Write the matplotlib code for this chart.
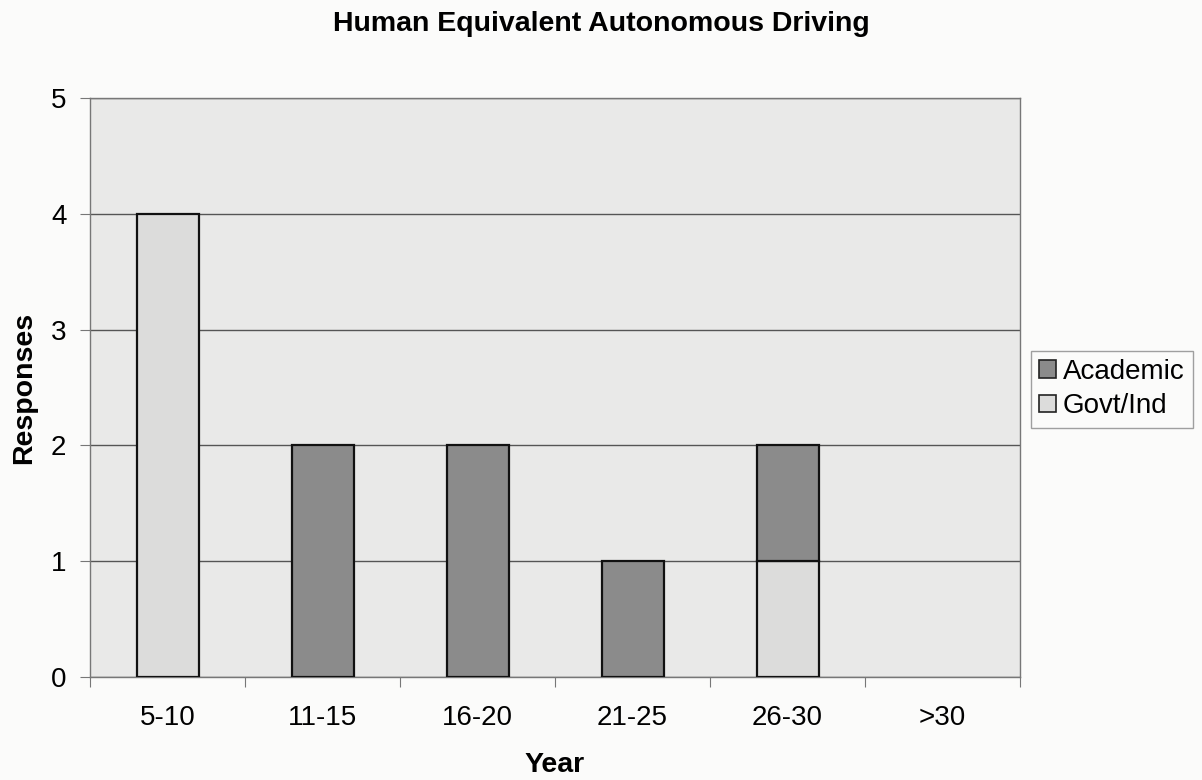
import numpy as np
import matplotlib
matplotlib.use("Agg")
from matplotlib import pyplot as plt
from matplotlib.patches import Patch

years = ['5-10', '11-15', '16-20', '21-25', '26-30', '>30']
govt_ind = [4, 0, 0, 0, 1, 0]
academic = [0, 2, 2, 1, 1, 0]

plt.rcParams['font.family'] = ['Liberation Sans', 'DejaVu Sans']

c_govt = '#dcdcdb'
c_acad = '#8b8b8b'

fig = plt.figure(figsize=(12.02, 7.8), dpi=100, facecolor='#fbfbfa')
ax = fig.add_axes([90 / 1202, 1 - 677 / 780, 930 / 1202, 579 / 780])
ax.set_facecolor('#e9e9e8')

x = np.arange(len(years))
w = 0.4
# empty segments get no outline
ax.bar(x, govt_ind, w, color=c_govt, edgecolor='#111111',
       lw=[1.6 if v else 0 for v in govt_ind], zorder=3)
ax.bar(x, academic, w, bottom=govt_ind, color=c_acad, edgecolor='#111111',
       lw=[1.6 if v else 0 for v in academic], zorder=3)

ax.set_xlim(-0.5, len(years) - 0.5)
ax.set_ylim(0, 5)
ax.set_yticks(range(6))
ax.yaxis.grid(True, color='#555555', lw=1.0, zorder=1)
ax.set_xticks(np.arange(-0.5, len(years)), minor=False)
ax.set_xticklabels([])
ax.set_xticks(x, minor=True)
ax.set_xticklabels(years, minor=True)
ax.tick_params(axis='x', which='major', length=7, direction='out', color='#777777')
ax.tick_params(axis='x', which='minor', length=0, pad=20, labelsize=20)
ax.tick_params(axis='y', length=7, color='#777777', labelsize=20, pad=10)
for s in ax.spines.values():
    s.set_color('#777777')
    s.set_linewidth(1.0)

ax.set_xlabel('Year', fontsize=20.5, fontweight='bold', labelpad=15)
ax.set_ylabel('Responses', fontsize=20.5, fontweight='bold', labelpad=10)
fig.text(0.5, 1 - 24 / 780, 'Human Equivalent Autonomous Driving', ha='center', va='center',
         fontsize=20.5, fontweight='bold')

handles = [Patch(facecolor=c_acad, edgecolor='#222222', lw=1.2, label='Academic'),
           Patch(facecolor=c_govt, edgecolor='#222222', lw=1.2, label='Govt/Ind')]
leg = fig.legend(handles=handles, loc='center left', bbox_to_anchor=(1031 / 1202, 1 - 389 / 780),
                 fontsize=20, frameon=True, fancybox=False, edgecolor='#888888',
                 handlelength=0.6, handleheight=0.6, handletextpad=0.25, borderpad=0.3,
                 labelspacing=0.3, borderaxespad=0)
leg.get_frame().set_facecolor('#fbfbfa')

plt.savefig('out.png', dpi=100, facecolor=fig.get_facecolor())
